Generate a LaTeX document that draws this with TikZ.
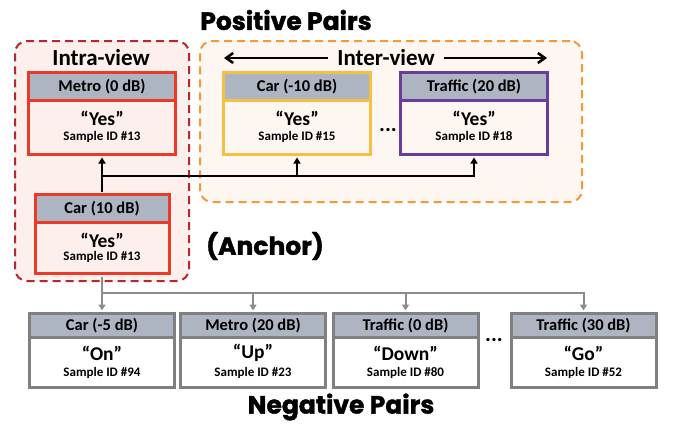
\documentclass[tikz,border=0pt]{standalone}
\usepackage{fontspec}
\setmainfont{Carlito}
\newfontfamily\heavy[BoldFeatures={FakeBold=1.5}]{Poppins}
\usetikzlibrary{arrows.meta}
\definecolor{cred}{HTML}{EA3B2A}
\definecolor{dred}{HTML}{B7282E}
\definecolor{intrafill}{HTML}{FCEFEC}
\definecolor{interfill}{HTML}{FDF6F1}
\definecolor{hgray}{HTML}{ADB5C3}
\definecolor{cyel}{HTML}{F6C143}
\definecolor{cpur}{HTML}{6A3D9A}
\definecolor{corange}{HTML}{F29A38}
\definecolor{cgray}{HTML}{808080}
\definecolor{agray}{HTML}{8C8C8C}
\tikzset{
  container/.style={rectangle, rounded corners=12pt, line width=2pt, dash pattern=on 8pt off 5pt, inner sep=0pt},
  card/.style={rectangle, line width=3pt, inner sep=0pt},
  hdr/.style={rectangle, line width=3pt, fill=hgray, inner sep=0pt, anchor=north, font=\bfseries\fontsize{16.5}{18}\selectfont},
  word/.style={inner sep=0pt, font=\bfseries\fontsize{19.5}{21}\selectfont},
  sid/.style={inner sep=0pt, font=\bfseries\fontsize{13}{15}\selectfont},
  title/.style={inner sep=0pt, font=\heavy\bfseries\fontsize{25}{28}\selectfont},
  sub/.style={inner sep=0pt, font=\bfseries\fontsize{23}{26}\selectfont},
  blkarrow/.style={line width=2pt, -{Triangle[width=7pt,length=6pt]}},
  blkline/.style={line width=2pt},
  grayarrow/.style={line width=2pt, draw=agray, -{Triangle[width=7pt,length=6pt]}},
  grayline/.style={line width=2pt, draw=agray},
  viewarrow/.style={line width=2.5pt, -{Straight Barb[width=10pt,length=7pt]}},
  dots/.style={inner sep=0pt, font=\bfseries\fontsize{22}{24}\selectfont}
}
\begin{document}
\begin{tikzpicture}[x=1pt,y=-1pt]
\useasboundingbox (0,0) rectangle (674,423);

% containers
\node[container, draw=dred, fill=intrafill, minimum width=174pt, minimum height=240pt] (intra) at (102,161) {};
\node[container, draw=corange, fill=interfill, minimum width=382pt, minimum height=161pt] (inter) at (391,121.5) {};

% titles
\node[title] (postitle) at (286,20) {Positive Pairs};
\node[title] (anchorlbl) at (265,246) {(Anchor)};
\node[title] (negtitle) at (341,407) {Negative Pairs};
\node[sub] (intralbl) at (101,58) {Intra-view};
\node[sub] (interlbl) at (386,58) {Inter-view};
\coordinate (la) at (224,58);
\coordinate (ra) at (547,58);
\draw[viewarrow] ([xshift=-9pt]interlbl.west) -- (la);
\draw[viewarrow] ([xshift=9pt]interlbl.east) -- (ra);

% positive cards
\node[card, draw=cred, minimum width=147pt, minimum height=82pt] (metro) at (102,113.5) {};
\node[hdr, draw=cred, minimum width=147pt, minimum height=27.5pt] (metroh) at (metro.north) {Metro (0 dB)};
\node[word] (metrow) at ([yshift=-47pt]metro.north) {“Yes”};
\node[sid] (metroi) at ([yshift=-66pt]metro.north) {Sample ID \#13};

\node[card, draw=cred, minimum width=134pt, minimum height=79pt] (anc) at (102,234) {};
\node[hdr, draw=cred, minimum width=134pt, minimum height=27.5pt] (anch) at (anc.north) {Car (10 dB)};
\node[word] (ancw) at ([yshift=-47pt]anc.north) {“Yes”};
\node[sid] (anci) at ([yshift=-64pt]anc.north) {Sample ID \#13};

\node[card, draw=cyel, minimum width=147pt, minimum height=82pt] (car10) at (297,113.5) {};
\node[hdr, draw=cyel, minimum width=147pt, minimum height=27.5pt] (car10h) at (car10.north) {Car (-10 dB)};
\node[word] (car10w) at ([yshift=-47pt]car10.north) {“Yes”};
\node[sid] (car10i) at ([yshift=-66pt]car10.north) {Sample ID \#15};

\node[card, draw=cpur, minimum width=147pt, minimum height=82pt] (traf20) at (474,113.5) {};
\node[hdr, draw=cpur, minimum width=147pt, minimum height=27.5pt] (traf20h) at (traf20.north) {Traffic (20 dB)};
\node[word] (traf20w) at ([yshift=-47pt]traf20.north) {“Yes”};
\node[sid] (traf20i) at ([yshift=-66pt]traf20.north) {Sample ID \#18};

\node[dots] (pdots) at (388,130) {...};

% negative cards
\node[card, draw=cgray, fill=white, minimum width=145pt, minimum height=74pt] (n1) at (102,350.5) {};
\node[hdr, draw=cgray, minimum width=145pt, minimum height=23.5pt] (n1h) at (n1.north) {Car (-5 dB)};
\node[word] (n1w) at ([yshift=-41pt]n1.north) {“On”};
\node[sid] (n1i) at ([yshift=-61pt]n1.north) {Sample ID \#94};

\node[card, draw=cgray, fill=white, minimum width=145pt, minimum height=74pt] (n2) at (253,350.5) {};
\node[hdr, draw=cgray, minimum width=145pt, minimum height=23.5pt] (n2h) at (n2.north) {Metro (20 dB)};
\node[word] (n2w) at ([yshift=-41pt]n2.north) {“Up”};
\node[sid] (n2i) at ([yshift=-61pt]n2.north) {Sample ID \#23};

\node[card, draw=cgray, fill=white, minimum width=145pt, minimum height=74pt] (n3) at (405.5,350.5) {};
\node[hdr, draw=cgray, minimum width=145pt, minimum height=23.5pt] (n3h) at (n3.north) {Traffic (0 dB)};
\node[word] (n3w) at ([yshift=-41pt]n3.north) {“Down”};
\node[sid] (n3i) at ([yshift=-61pt]n3.north) {Sample ID \#80};

\node[card, draw=cgray, fill=white, minimum width=145pt, minimum height=74pt] (n4) at (583.5,350.5) {};
\node[hdr, draw=cgray, minimum width=145pt, minimum height=23.5pt] (n4h) at (n4.north) {Traffic (30 dB)};
\node[word] (n4w) at ([yshift=-41pt]n4.north) {“Go”};
\node[sid] (n4i) at ([yshift=-61pt]n4.north) {Sample ID \#52};

\node[dots] (ndots) at (494,340) {...};

% positive connectors
\coordinate (pj) at (102,176);
\draw[blkarrow] ([yshift=1.5pt]anc.north) -- ([yshift=-1.5pt]metro.south);
\draw[blkarrow] (pj) -| ([yshift=-1.5pt]car10.south);
\draw[blkarrow] (pj) -| ([yshift=-1.5pt]traf20.south);

% negative connectors
\coordinate (nj) at (102,293);
\draw[grayline] ([yshift=-1.5pt]anc.south) -- (nj);
\draw[grayarrow] (nj) -- ([yshift=1.5pt]n1.north);
\draw[grayarrow] (nj) -| ([yshift=1.5pt]n2.north);
\draw[grayarrow] (nj) -| ([yshift=1.5pt]n3.north);
\draw[grayarrow] (nj) -| ([yshift=1.5pt]n4.north);
\end{tikzpicture}
\end{document}
